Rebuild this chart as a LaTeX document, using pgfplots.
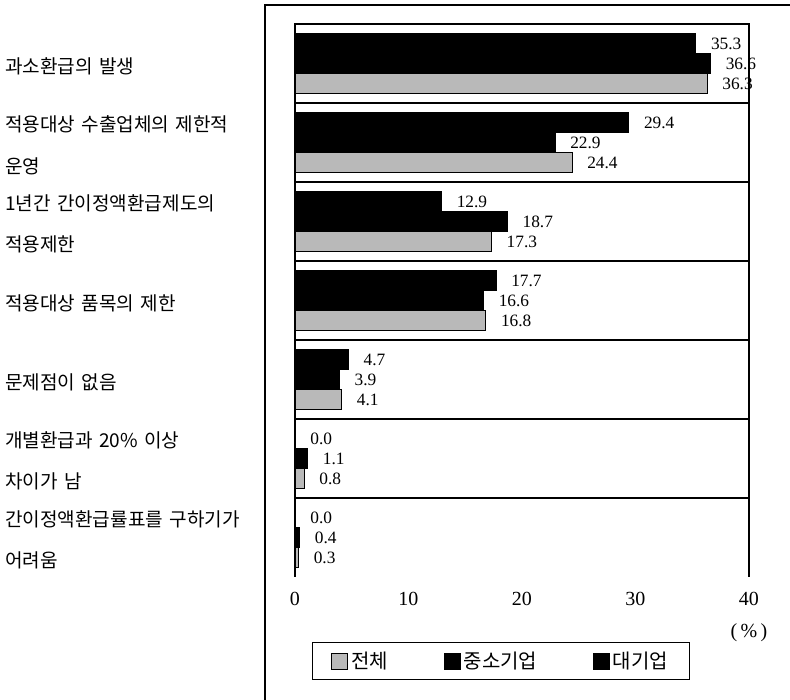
\documentclass[border=0pt]{standalone}
\usepackage{fontspec}
\setmainfont{Liberation Serif}
\newfontfamily\kr{Noto Sans CJK KR}
\usepackage{pgfplots}
\pgfplotsset{compat=1.18}
\begin{document}
\begin{tikzpicture}
\path[use as bounding box] (-221.25pt,-92.25pt) rectangle (371.25pt,432.75pt);
\begin{axis}[
  at={(0,0)}, anchor=south west,
  scale only axis, width=340.5pt, height=414.75pt,
  xmin=0, xmax=40, ymin=-0.5, ymax=6.5,
  clip=false,
  axis line style={draw=none},
  tick style={draw=none},
  major tick length=0pt,
  xbar, bar width=15pt,
  /pgf/number format/assume math mode=true,
  xtick={0,10,20,30,40},
  xticklabel style={font=\fontsize{15}{15}\selectfont, yshift=-8pt},
  ytick={0,1,2,3,4,5,6},
  yticklabels={{간이정액환급률표를 구하기가\\어려움},{개별환급과 20\% 이상\\차이가 남},{문제점이 없음},{적용대상 품목의 제한},{1년간 간이정액환급제도의\\적용제한},{적용대상 수출업체의 제한적\\운영},{과소환급의 발생}},
  yticklabel style={font=\kr\fontsize{14.3}{31}\selectfont, anchor=west, align=left, text width=215pt, inner sep=0pt, xshift=-217.5pt, yshift=-2pt},
  extra y ticks={0.5,1.5,2.5,3.5,4.5,5.5},
  extra y tick labels={},
  extra y tick style={grid=major, major grid style={black, line width=0.8pt}},
  point meta=x,
  nodes near coords={\pgfmathprintnumber[fixed,fixed zerofill,precision=1]{\pgfplotspointmeta}},
  every node near coord/.append style={font=\fontsize{13}{13}\selectfont, anchor=west, xshift=8pt, text=black},
  legend columns=3,
  legend image code/.code={\fill[#1] (0pt,-6pt) rectangle (12pt,6pt);},
  legend style={at={(0.454,-0.152)}, anchor=center, draw=black, line width=0.8pt,
    font=\kr\fontsize{15}{16}\selectfont, inner xsep=14pt, inner ysep=5pt,
    /tikz/every even column/.append style={column sep=40pt}},
]
\addplot[fill=gray!55, draw=black, bar shift=-15pt] coordinates {
(36.3,6) (24.4,5) (17.3,4) (16.8,3) (4.1,2) (0.8,1) (0.3,0)};
\addlegendentry{전체}
\addplot[fill=black, draw=black, bar shift=0pt] coordinates {
(36.6,6) (22.9,5) (18.7,4) (16.6,3) (3.9,2) (1.1,1) (0.4,0)};
\addlegendentry{중소기업}
\addplot[fill=black, draw=black, bar shift=15pt] coordinates {
(35.3,6) (29.4,5) (12.9,4) (17.7,3) (4.7,2) (0.0,1) (0.0,0)};
\addlegendentry{대기업}
\draw[line width=0.8pt] (rel axis cs:0,0) -- (rel axis cs:0,1) -- (rel axis cs:1,1) -- (rel axis cs:1,0);
\node[font=\fontsize{15}{15}\selectfont] at ([yshift=-42pt]rel axis cs:1,0) {(\,\%\,)};
\end{axis}
\draw[line width=0.8pt] (-22.5pt,-92.25pt) -- (-22.5pt,429pt) -- (371.25pt,429pt);
\end{tikzpicture}
\end{document}
